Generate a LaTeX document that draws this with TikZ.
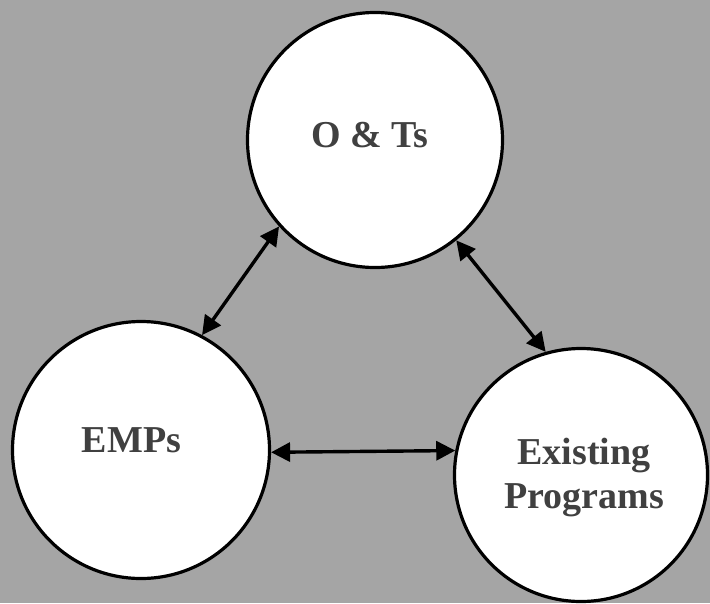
\documentclass[tikz,border=0pt]{standalone}
\usepackage{fontspec}
\setmainfont{Liberation Serif}
\usetikzlibrary{arrows.meta}
\definecolor{bg}{RGB}{165,165,165}
\definecolor{txt}{RGB}{64,64,64}
\tikzset{
  bubble/.style={circle, draw=black, fill=white, line width=3.2pt, inner sep=0pt},
  lbl/.style={font=\fontsize{38}{44}\selectfont\bfseries, text=txt, anchor=base, align=center, inner sep=0pt},
  arr/.style={line width=3.4pt, {Triangle[length=19pt,width=19pt]}-{Triangle[length=19pt,width=19pt]}}
}
\begin{document}
\begin{tikzpicture}[x=1pt,y=-1pt]
\fill[bg] (0,0) rectangle (710,603);
\useasboundingbox (0,0) rectangle (710,603);
\node[bubble, minimum size=255pt] (top) at (375,140) {};
\node[bubble, minimum size=257pt] (left) at (141,450) {};
\node[bubble, minimum size=253pt] (right) at (581,475) {};
\node[lbl] (ttop) at (369.5,147) {O \& Ts};
\node[lbl] (tleft) at (131.5,452) {EMPs};
\node[lbl] (tright) at (584,508) {Existing\\Programs};
\draw[arr] (top.222) -- (left.62);
\draw[arr] (top.309) -- (right.106);
\draw[arr] (left.-1) -- (right.169.6);
\end{tikzpicture}
\end{document}
